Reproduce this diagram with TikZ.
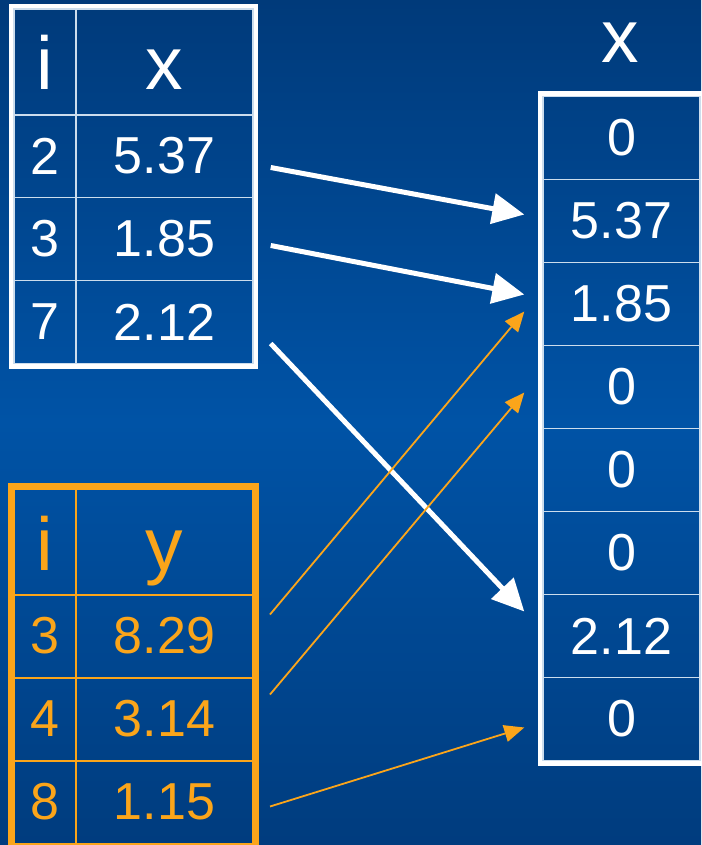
\documentclass[tikz,border=0pt]{standalone}
\usepackage{fontspec}
\setmainfont{Liberation Sans}
\usetikzlibrary{arrows.meta,positioning,calc,fit}
\definecolor{bgtop}{HTML}{003A7A}
\definecolor{bgmid}{HTML}{0053A6}
\definecolor{bgbot}{HTML}{003C7E}
\definecolor{vorange}{HTML}{FBA51A}
\tikzset{
  cell/.style={draw=white!80!bgmid,line width=1.4pt,inner sep=0pt,minimum height=83pt,text=white,font=\fontsize{52}{60}\selectfont},
  hdr/.style={cell,minimum height=106pt,text height=66pt,text depth=10pt,font=\fontsize{75}{80}\selectfont},
  icol/.style={minimum width=62pt},
  vcol/.style={minimum width=177pt},
  ocell/.style={draw=vorange,line width=2pt,text=vorange},
  frame/.style={draw=white,line width=4.5pt,inner sep=2.5pt},
  arr/.style={-{Triangle[length=32pt,width=30pt]},line width=5pt,draw=white},
  oarr/.style={-{Triangle[length=20pt,width=17pt]},line width=1.8pt,draw=vorange},
}
\begin{document}
\begin{tikzpicture}[x=1pt,y=-1pt]
  \shade[top color=bgtop,bottom color=bgbot,middle color=bgmid] (0,0) rectangle (701,845);
  \useasboundingbox (0,0) rectangle (701,845);
  % sparse x
  \node[hdr,icol] (xi0) at (45,62) {i};
  \node[hdr,vcol] (xv0) at (164.5,62) {x};
  \foreach \i/\v [count=\k] in {2/5.37,3/1.85,7/2.12} {
    \node[cell,icol] (xi\k) at (45,73+83*\k) {\i};
    \node[cell,vcol] (xv\k) at (164.5,73+83*\k) {\v};
  }
  \node[frame,fit=(xi0)(xv3)] (xtab) {};
  % sparse y
  \node[hdr,icol,ocell] (yi0) at (45,542) {i};
  \node[hdr,vcol,ocell] (yv0) at (164.5,542) {y};
  \foreach \i/\v [count=\k] in {3/8.29,4/3.14,8/1.15} {
    \node[cell,icol,ocell] (yi\k) at (45,553+83*\k) {\i};
    \node[cell,vcol,ocell] (yv\k) at (164.5,553+83*\k) {\v};
  }
  \node[frame,draw=vorange,fit=(yi0)(yv3)] (ytab) {};
  % dense x
  \node[text=white,font=\fontsize{75}{80}\selectfont,anchor=base] (rlbl) at (620,63) {x};
  \foreach \v [count=\k] in {0,5.37,1.85,0,0,0,2.12,0}
    \node[cell,minimum width=157pt] (r\k) at (621.5,55+83*\k) {\v};
  \node[frame,fit=(r1)(r8)] (rtab) {};
  % scatter
  \draw[arr] ([shift={(17,11.5)}]xv1.east) -- ([shift={(-18,-6.5)}]r2.west);
  \draw[arr] ([shift={(17,6.5)}]xv2.east) -- ([shift={(-18,-9.5)}]r3.west);
  \draw[arr] ([shift={(17,21.5)}]xv3.east) -- ([shift={(-18,-24.5)}]r7.west);
  \draw[oarr] ([shift={(16,-21.5)}]yv1.east) -- ([shift={(-18,7.5)}]r3.west);
  \draw[oarr] ([shift={(16,-24.5)}]yv2.east) -- ([shift={(-18,5.5)}]r4.west);
  \draw[oarr] ([shift={(16,4.5)}]yv3.east) -- ([shift={(-18,8.5)}]r8.west);
\end{tikzpicture}
\end{document}
